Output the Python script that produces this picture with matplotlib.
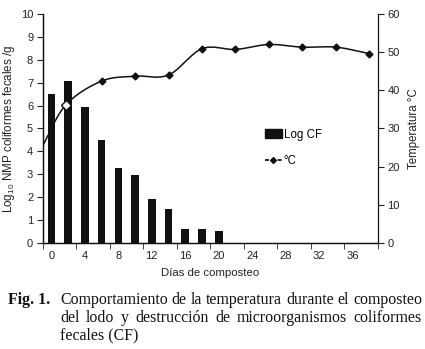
import numpy as np
import matplotlib
matplotlib.use("Agg")
import matplotlib.pyplot as plt
from matplotlib.patches import Patch
from matplotlib.lines import Line2D

plt.rcParams['font.family'] = ['Liberation Sans', 'DejaVu Sans']
plt.rcParams['mathtext.fontset'] = 'custom'
plt.rcParams['mathtext.rm'] = 'Liberation Sans'

# days of composting (category axis), log CF counts
days = [0, 2, 4, 6, 8, 10, 12, 14, 16, 18, 20, 22, 24, 26, 28, 30, 32, 34, 36, 38]
cf_days = [0, 2, 4, 6, 8, 10, 12, 14, 16, 18, 20]
log_cf = [6.5, 7.05, 5.95, 4.5, 3.25, 2.95, 1.93, 1.5, 0.6, 0.6, 0.5]

# temperature readings (positions, in day units)
temp_days = [-1, 1.75, 6, 10, 14, 18, 22, 26, 30, 34, 38]
temp_c = [25.6, 36.2, 42.4, 43.7, 44.0, 50.9, 50.7, 52.0, 51.3, 51.3, 49.6]

tick_labels = ['0', '4', '8', '12', '16', '20', '24', '28', '32', '36']


def smooth(x, y, n=20):
    # catmull-rom curve through the points (like excel's smoothed line)
    x = np.asarray(x, float)
    y = np.asarray(y, float)
    px = np.concatenate([[2 * x[0] - x[1]], x, [2 * x[-1] - x[-2]]])
    py = np.concatenate([[2 * y[0] - y[1]], y, [2 * y[-1] - y[-2]]])
    xs, ys = [], []
    for i in range(1, len(px) - 2):
        t = np.linspace(0, 1, n, endpoint=False)
        for arr, out in ((px, xs), (py, ys)):
            p0, p1, p2, p3 = arr[i - 1], arr[i], arr[i + 1], arr[i + 2]
            out.extend(0.5 * (2 * p1 + (-p0 + p2) * t
                              + (2 * p0 - 5 * p1 + 4 * p2 - p3) * t ** 2
                              + (-p0 + 3 * p1 - 3 * p2 + p3) * t ** 3))
    xs.append(x[-1])
    ys.append(y[-1])
    return np.array(xs), np.array(ys)


fig = plt.figure(figsize=(4.25, 3.49), dpi=100)
ax = fig.add_axes([0.101, 0.304, 0.788, 0.656])
ax2 = ax.twinx()

ax.bar(cf_days, log_cf, width=0.9, color='#111111', zorder=2)
ax.set_ylim(0, 10)
ax.set_yticks(range(0, 11))
ax.set_xlim(days[0] - 1, days[-1] + 1)
ax.set_xticks([int(t) for t in tick_labels])
ax.set_xticklabels(tick_labels)
ax.set_xticks(np.arange(days[0] - 1, days[-1] + 2, 4), minor=True)
ax.tick_params(axis='x', which='major', length=0, pad=6, labelsize=8, colors='#222222')
ax.tick_params(axis='x', which='minor', length=4, direction='out', color='#222222')
ax.tick_params(axis='y', length=4, labelsize=8, pad=3, colors='#222222')

sx, sy = smooth(temp_days, temp_c)
ax2.plot(sx, sy, color='#111111', lw=1.1, zorder=3)
ax2.plot(temp_days[2:], temp_c[2:], ls='none', marker='D', ms=3.5,
         color='#111111', zorder=4)
ax2.plot(temp_days[1:2], temp_c[1:2], ls='none', marker='D', ms=5,
         mfc='white', mec='#111111', mew=1.0, zorder=4)
ax2.set_ylim(0, 60)
ax2.set_yticks(range(0, 61, 10))
ax2.tick_params(axis='y', length=4, labelsize=8, pad=3, colors='#222222')

for a in (ax, ax2):
    a.spines['top'].set_visible(False)
    for s in ('left', 'right', 'bottom'):
        a.spines[s].set_linewidth(0.9)
        a.spines[s].set_color('#111111')
ax.spines['right'].set_visible(False)

ax.set_ylabel(r'Log$_{\mathregular{10}}$ NMP coliformes fecales /g', fontsize=8.4,
              labelpad=3, color='#222222')
ax2.set_ylabel('Temperatura °C', fontsize=8.3, labelpad=6, color='#222222')
ax.set_xlabel('Días de composteo', fontsize=8.2, labelpad=5, color='#222222')

handles = [Patch(color='#111111'),
           Line2D([0], [0], color='#111111', ls=(0, (2.2, 1.3)), marker='D', ms=3, lw=1.3)]
fig.legend(handles, ['Log CF', '°C'], loc='upper left',
           bbox_to_anchor=(0.612, 0.645), frameon=False, fontsize=8.3,
           handlelength=1.5, handleheight=0.7, handletextpad=0.15,
           labelspacing=1.25, borderaxespad=0)

# caption, first two lines justified between x0 and x1
serif = ['Liberation Serif', 'DejaVu Serif']
lines = ['Comportamiento de la temperatura durante el composteo',
         'del lodo y destrucción de microorganismos coliformes',
         'fecales (CF)']
x0, x1 = 60 / 425, 422 / 425
ys = [300, 318, 335]
fig.canvas.draw()
r = fig.canvas.get_renderer()
probe = fig.text(0, 0, lines[0], family=serif, fontsize=10)
w10 = probe.get_window_extent(r).width / fig.bbox.width
probe.remove()
fs = min(11.5, 10 * (x1 - x0) / w10)

fig.text(0.019, 1 - ys[0] / 349, 'Fig. 1.', family=serif, fontsize=fs,
         fontweight='bold', va='center', color='#111111')
for i, (line, yp) in enumerate(zip(lines, ys)):
    y = 1 - yp / 349
    if i == len(lines) - 1:
        fig.text(x0, y, line, family=serif, fontsize=fs, va='center', color='#111111')
        continue
    words = line.split(' ')
    texts = [fig.text(0, y, w, family=serif, fontsize=fs, va='center', color='#111111')
             for w in words]
    widths = [t.get_window_extent(r).width / fig.bbox.width for t in texts]
    gap = (x1 - x0 - sum(widths)) / (len(words) - 1)
    x = x0
    for t, w in zip(texts, widths):
        t.set_x(x)
        x += w + gap

fig.savefig('out.png', dpi=100)
